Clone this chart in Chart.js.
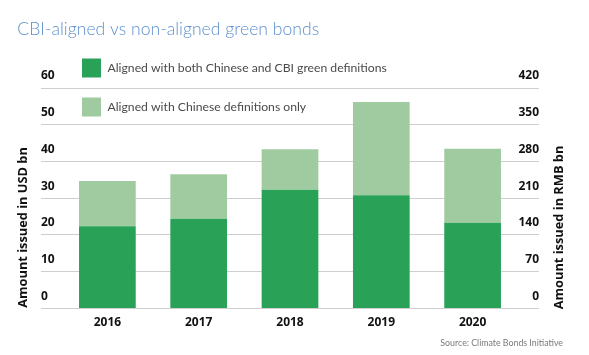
<!DOCTYPE html>
<html><head><meta charset="utf-8">
<script src="https://cdn.jsdelivr.net/npm/chart.js@4/dist/chart.umd.min.js"></script>
<style>html,body{margin:0;padding:0;background:#fff;}#wrap{width:589px;height:355px;position:relative;}</style>
</head><body><div id="wrap"><canvas id="c" width="589" height="355"></canvas></div>
<script>
const categories = ['2016', '2017', '2018', '2019', '2020'];
const alignedBoth = [22.4, 24.4, 32.3, 30.8, 23.3];
const chineseOnly = [12.3, 12.1, 11.0, 25.4, 20.2];
const usdTicks = [0, 10, 20, 30, 40, 50, 60];
const rmbTicks = [0, 70, 140, 210, 280, 350, 420];
const seriesLabels = ['Aligned with both Chinese and CBI green definitions', 'Aligned with Chinese definitions only'];
const titleText = 'CBI-aligned vs non-aligned green bonds';
const sourceText = 'Source: Climate Bonds Initiative';
const usdTitle = 'Amount issued in USD bn';
const rmbTitle = 'Amount issued in RMB bn';

const DARK = '#29a257', LIGHT = '#a0cba0', GRID = '#cdcdd2', INK = '#111111';
const TICKFONT = {family: 'Open Sans', size: 12, weight: 'bold'};

const boxLegend = {
  id: 'boxLegend',
  afterDraw(chart) {
    const ctx = chart.ctx;
    ctx.save();
    chart.data.datasets.forEach((ds, i) => {
      const y = 58.5 + i * 39;
      ctx.fillStyle = ds.backgroundColor;
      ctx.fillRect(82, y, 19, 19);
      ctx.fillStyle = '#4a4a4a';
      ctx.font = '12.2px Lato';
      ctx.textBaseline = 'middle';
      ctx.textAlign = 'left';
      ctx.fillText(ds.label, 107.5, y + 9.8);
    });
    ctx.restore();
  }
};
const axisTitles = {
  id: 'axisTitles',
  afterDraw(chart) {
    const ctx = chart.ctx;
    [[usdTitle, 23.5], [rmbTitle, 559.5]].forEach(([txt, x]) => {
      ctx.save();
      ctx.translate(x, 227.5);
      ctx.rotate(-Math.PI / 2);
      ctx.fillStyle = INK;
      ctx.font = 'bold 12.8px "Open Sans"';
      ctx.textAlign = 'center';
      ctx.textBaseline = 'middle';
      ctx.fillText(txt, 0, 0);
      ctx.restore();
    });
  }
};

new Chart(document.getElementById('c'), {
  type: 'bar',
  data: {
    datasets: [
      {label: seriesLabels[0], data: alignedBoth.map((v, i) => ({x: i, y: v})), backgroundColor: DARK, yAxisID: 'y'},
      {label: seriesLabels[1], data: chineseOnly.map((v, i) => ({x: i, y: v})), backgroundColor: LIGHT, yAxisID: 'y'}
    ]
  },
  options: {
    responsive: false,
    animation: false,
    devicePixelRatio: 1,
    categoryPercentage: 1,
    barPercentage: 0.621,
    layout: {padding: {left: 17.3, right: 26, top: 0, bottom: 0}},
    plugins: {
      legend: {display: false},
      tooltip: {enabled: false},
      title: {display: true, text: titleText, align: 'start', color: '#5e90cf',
        font: {family: 'Lato', size: 17.6, weight: '300', lineHeight: 1.2},
        padding: {top: 18.6, bottom: 48.3}},
      subtitle: {display: true, text: sourceText, position: 'bottom', align: 'end', color: '#7a7a7a',
        font: {family: 'Lato', size: 8.8, weight: 'normal', lineHeight: 1.2},
        padding: {top: 1, bottom: 6.6}}
    },
    scales: {
      x: {
        type: 'linear', offset: false, stacked: true,
        min: -0.727, max: 4.727,
        grid: {display: false, drawTicks: false}, border: {display: false},
        ticks: {stepSize: 1, includeBounds: false, autoSkip: false, maxRotation: 0, padding: 7,
          color: INK, font: TICKFONT, callback: (v) => categories[v]}
      },
      y: {
        position: 'left', stacked: true,
        min: usdTicks[0], max: usdTicks[usdTicks.length - 1],
        afterBuildTicks: (s) => { s.ticks = usdTicks.map(v => ({value: v})); },
        afterFit: (s) => { s.width = 23.7; },
        grid: {color: GRID, lineWidth: 1, drawTicks: false}, border: {display: false},
        ticks: {mirror: true, padding: 0, labelOffset: -12, color: INK, font: TICKFONT}
      },
      y2: {
        position: 'right',
        min: rmbTicks[0], max: rmbTicks[rmbTicks.length - 1],
        afterBuildTicks: (s) => { s.ticks = rmbTicks.map(v => ({value: v})); },
        afterFit: (s) => { s.width = 24; },
        grid: {display: false, drawTicks: false}, border: {display: false},
        ticks: {mirror: true, padding: 0, labelOffset: -12, color: INK, font: TICKFONT}
      }
    }
  },
  plugins: [boxLegend, axisTitles]
});
</script></body></html>
